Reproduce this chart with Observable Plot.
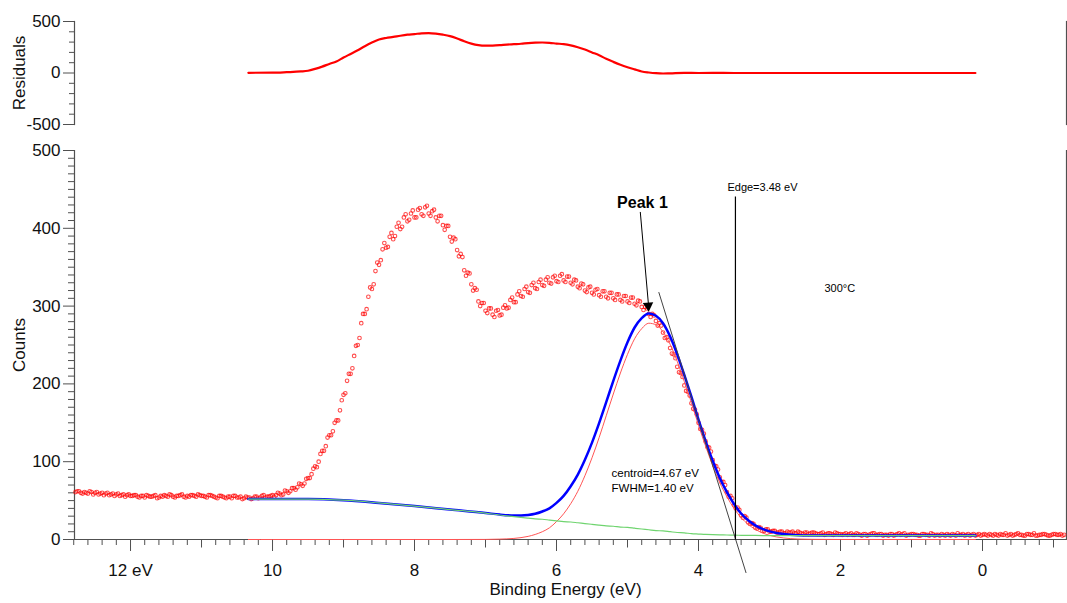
<!DOCTYPE html>
<html>
<head>
<meta charset="utf-8">
<script src="https://cdn.jsdelivr.net/npm/d3@7"></script>
<script src="https://cdn.jsdelivr.net/npm/@observablehq/plot@0.6"></script>
<style>
  html, body { margin: 0; padding: 0; background: #fff; }
  #top { position: absolute; left: 0; top: 0; }
  #main { position: absolute; left: 0; top: 140px; }
  svg { overflow: visible; }
</style>
</head>
<body>
<div id="top"></div>
<div id="main"></div>
<script>
// ---------- data ----------
// measured spectrum: counts on a 0.05 eV grid, from 12.75 eV down to -1.15 eV
const dataStartEV = 12.75;
const dataStepEV = 0.05;
const counts = [
  62,60,61,59,61,60,58,60,59,57,59,58,56,58,57,56,
  57,55,56,54,56,55,57,54,55,56,58,55,56,57,55,56,57,56,58,56,
  55,57,56,54,56,55,53,55,56,54,55,53,54,52,55,53,56,54,55,57,
  57,59,58,62,62,66,67,71,72,79,84,94,100,114,120,134,139,153,166,186,
  204,213,236,250,278,290,312,322,345,353,373,375,389,386,402,399,414,409,419,414,
  424,418,427,419,422,414,416,404,403,389,388,372,367,346,343,328,323,306,304,294,
  297,289,294,288,298,297,308,305,315,313,322,318,327,323,331,327,334,330,337,332,
  339,333,338,330,334,325,329,320,324,317,321,314,319,312,317,310,315,308,313,306,
  311,303,307,299,299,290,290,281,278,266,260,246,238,222,214,198,190,175,167,150,
  141,126,118,102,94,80,74,61,56,44,41,31,30,22,21,15,16,11,13,10,
  11,9,10,8,10,9,8,10,8,9,7,9,8,7,9,7,8,6,8,7,
  7,6,8,6,7,5,7,6,8,6,7,5,6,7,5,7,6,8,6,7,
  6,5,7,6,5,7,6,5,6,7,5,6,8,6,5,7,6,5,7,6,
  6,7,5,6,7,6,5,7,6,8,6,5,7,6,5,6,7,6,5,7,6,7,6
];
// second interleaved sweep: 0.05 eV grid from 12.775 eV down to -1.125 eV
const dataStartEV2 = 12.775;
const counts2 = [
  61,62,59,60,62,58,61,59,57,60,58,56,59,57,55,58,
  56,57,54,56,57,55,56,53,56,57,55,57,54,56,58,54,55,57,55,57,
  56,54,57,55,53,56,54,55,53,56,54,52,55,54,53,55,54,57,55,56,
  55,60,57,63,60,66,64,72,69,78,79,91,93,110,114,131,134,150,153,179,
  188,213,220,249,259,290,296,324,328,356,359,381,376,394,390,407,402,418,411,423,
  414,426,416,429,416,424,409,416,398,403,383,386,364,363,339,342,320,321,300,304,
  291,297,286,295,289,301,298,311,305,319,312,325,317,330,322,334,326,337,329,339,
  331,341,331,338,328,333,323,328,318,325,315,322,312,319,310,317,308,315,306,313,
  304,311,301,306,295,297,286,288,275,275,259,256,239,233,215,209,191,185,168,161,
  142,136,119,113,95,90,74,70,55,53,40,38,28,28,20,20,14,15,11,13,
  10,11,9,10,8,9,10,8,9,7,9,8,9,7,8,6,8,7,9,7,
  6,8,7,6,8,6,7,5,7,8,6,7,6,5,7,6,8,7,5,6,
  7,6,5,7,6,8,5,6,7,5,6,7,5,6,7,6,5,7,6,5,
  7,5,6,7,5,6,8,6,5,7,6,5,7,6,8,5,6,7,5,6,7,6,5
];

// fit curves (fit range 10.34 eV .. 0.1 eV)
const fitEnergy = [10.34,10.0,9.5,9.0,8.5,8.0,7.5,7.0,
  6.8,6.6,6.5,6.4,6.3,6.2,6.1,6.0,
  5.9,5.8,5.7,5.6,5.5,5.4,5.3,5.2,5.1,5.0,
  4.9,4.8,4.7,4.6,4.5,4.4,4.3,4.2,4.1,4.0,
  3.9,3.8,3.7,3.6,3.5,3.4,3.3,3.2,3.1,3.0,
  2.9,2.8,2.6,2.4,2.0,1.5,1.0,0.5,0.1];
const backgroundCounts = [52,52,52,50.5,47,43,38.5,34,
  31.5,29.5,28.5,27.5,26.5,26,25,24,
  23,22.5,21.5,20.5,19.5,18.5,17.5,17,16,15.5,
  14.5,13.5,12.5,11.5,11,10,9,8.5,7.5,7,
  6.5,6.2,6,5.8,5.6,5.4,5.3,5.2,5.1,5,
  5,5,5,5,5,5,5,5,5];
const peakCounts = [0,0,0,0,0,0,0,0.1,
  0.5,1.4,2.4,4,6.5,10,15,23,
  33,46,62,82,105,131,159,187,214,238,
  258,271,278,276,267,251,229,203,176,147,
  120,95,73,55,40,28,19.5,13,8.5,5.4,
  3.3,2,0.6,0.2,0,0,0,0,0];
const envelopeCounts = [52,52,52,50.5,47,43,38.5,34.1,
  32,30.9,30.9,31.5,33,36,40,47,
  56,68.5,83.5,102.5,124.5,149.5,176.5,204,230,253.5,
  272.5,284.5,290.5,287.5,278,261,238,211.5,183.5,154,
  126.5,101.2,79,60.8,45.6,33.4,24.8,18.2,13.6,10.4,
  8.3,7,5.6,5.2,5,5,5,5,5];

// residuals
const resEnergy = [10.34,10.0,9.8,9.6,9.5,9.4,9.3,9.2,9.1,9.0,8.9,8.8,8.7,8.6,8.5,8.4,8.3,8.2,8.1,8.0,
  7.9,7.8,7.7,7.6,7.5,7.4,7.3,7.2,7.1,7.0,6.9,6.8,6.7,6.6,6.5,6.4,6.3,6.2,6.1,6.0,
  5.9,5.8,5.7,5.6,5.5,5.4,5.3,5.2,5.1,5.0,4.9,4.8,4.7,4.6,4.5,4.4,4.2,4.0,3.8,3.5,3.0,2.0,1.0,0.1];
const resValue = [2,3,8,15,22,40,62,88,112,150,185,220,260,295,325,340,350,362,372,378,
  385,387,382,372,358,335,308,285,270,265,266,270,276,280,284,290,294,296,293,286,
  280,268,250,228,200,172,138,108,80,56,35,15,5,-2,-5,-3,2,0,1,0,0,0,0,0];

// tick values
const xMajorTicks = [12, 10, 8, 6, 4, 2, 0];
const yMajorTicks = [0, 100, 200, 300, 400, 500];
const resMajorTicks = [-500, 0, 500];

// annotations (data coordinates)
const edgeEV = 3.48;
const edgeTopCounts = 441;
const tangentLine = [{x1: 4.56, y1: 318, x2: 3.33, y2: -43}];
const peakArrow = [{x1: 4.82, y1: 421, x2: 4.705, y2: 302}];
const peakHead = [{x: 4.708, y: 300.5}];
const peakLabel = [{x: 4.79, y: 433, text: "Peak 1"}];
const edgeLabel = [{x: edgeEV, y: 452, text: "Edge=3.48 eV"}];
const tempLabel = [{x: 2.01, y: 322.6, text: "300°C"}];
const fitLabels = [
  {x: 5.225, y: 85.7, text: "centroid=4.67 eV"},
  {x: 5.225, y: 65.2, text: "FWHM=1.40 eV"}
];

// axis range
const xLeft = 12.789, xRight = -1.183;

// ---------- build ----------
const FONT = "'Liberation Sans', Arial, Helvetica, sans-serif";
const AXIS = "#505050";
const points = counts.map((c, i) => ({e: +(dataStartEV - i * dataStepEV).toFixed(3), c}))
  .concat(counts2.map((c, i) => ({e: +(dataStartEV2 - i * dataStepEV).toFixed(3), c})));
const fit = fitEnergy.map((e, i) => ({e, bg: backgroundCounts[i], pk: peakCounts[i], env: envelopeCounts[i]}));
const res = resEnergy.map((e, i) => ({e, r: resValue[i]}));

const minorX = d3.range(-1.0, 12.81, 0.2).map(v => +v.toFixed(1)).filter(v => Math.abs(v - Math.round(v)) > 1e-6);
const midX = d3.range(-1, 13, 2);
const minorY = d3.range(10, 500, 10).filter(v => v % 100 !== 0);
const minorRes = d3.range(-400, 401, 100).filter(v => v !== 0);

const topPlot = Plot.plot({
  width: 1067, height: 140,
  marginLeft: 74, marginRight: 1, marginTop: 21, marginBottom: 16,
  style: {fontFamily: FONT, fontSize: "17px", color: "#111", background: "transparent"},
  x: {domain: [xLeft, xRight], axis: null},
  y: {domain: [-500, 500]},
  marks: [
    Plot.axisY(minorRes, {tickSize: 5, tickFormat: () => "", label: null, stroke: AXIS}),
    Plot.axisY(resMajorTicks, {tickSize: 11, tickPadding: 3, tickFormat: d => String(d), label: null, stroke: AXIS, fill: "#111"}),
    Plot.frame({anchor: "left", stroke: AXIS, strokeWidth: 1.2}),
    Plot.frame({anchor: "right", stroke: AXIS, strokeWidth: 1.2}),
    Plot.line(res, {x: "e", y: "r", stroke: "#ff0000", strokeWidth: 2.2, curve: "monotone-x"}),
    Plot.text(["Residuals"], {frameAnchor: "left", dx: -55, rotate: -90, textAnchor: "middle", fontSize: 17, fill: "#111"})
  ]
});
document.getElementById("top").appendChild(topPlot);

const mainPlot = Plot.plot({
  width: 1067, height: 463,
  marginLeft: 74, marginRight: 1, marginTop: 10, marginBottom: 64,
  style: {fontFamily: FONT, fontSize: "17px", color: "#111", background: "transparent"},
  x: {domain: [xLeft, xRight]},
  y: {domain: [0, 500]},
  marks: [
    Plot.axisY(minorY, {tickSize: 6, tickFormat: () => "", label: null, stroke: AXIS}),
    Plot.axisY(yMajorTicks, {tickSize: 11, tickPadding: 3, label: null, stroke: AXIS, fill: "#111"}),
    Plot.axisX(minorX, {tickSize: 6, tickFormat: () => "", label: null, stroke: AXIS}),
    Plot.axisX(midX, {tickSize: 8.5, tickFormat: () => "", label: null, stroke: AXIS}),
    Plot.axisX(xMajorTicks, {tickSize: 12, tickPadding: 12, tickFormat: d => d === 12 ? "12 eV" : String(d), label: null, stroke: AXIS, fill: "#111"}),
    Plot.frame({anchor: "left", stroke: AXIS, strokeWidth: 1.2}),
    Plot.frame({anchor: "bottom", stroke: AXIS, strokeWidth: 1.2}),
    Plot.frame({anchor: "right", stroke: AXIS, strokeWidth: 1.2}),
    Plot.dot(points, {x: "e", y: "c", r: 1.8, stroke: "#ff0000", strokeOpacity: 0.7, strokeWidth: 1.1, fill: "none"}),
    Plot.line(fit, {x: "e", y: "pk", stroke: "#ff5555", strokeWidth: 1, curve: "monotone-x"}),
    Plot.line(fit, {x: "e", y: "env", stroke: "#0000ff", strokeWidth: 2.5, curve: "monotone-x"}),
    Plot.line(fit, {x: "e", y: "bg", stroke: "#6fd46f", strokeWidth: 1.2, curve: "monotone-x"}),
    Plot.link(tangentLine, {x1: "x1", y1: "y1", x2: "x2", y2: "y2", stroke: "#444", strokeWidth: 1}),
    Plot.link([{x: edgeEV, y1: 0, y2: edgeTopCounts}], {x1: "x", x2: "x", y1: "y1", y2: "y2", stroke: "#000", strokeWidth: 1.2}),
    Plot.link(peakArrow, {x1: "x1", y1: "y1", x2: "x2", y2: "y2", stroke: "#000", strokeWidth: 1}),
    Plot.dot(peakHead, {x: "x", y: "y", symbol: "triangle2", r: 5, fill: "#000", rotate: 175.5}),
    Plot.text(peakLabel, {x: "x", y: "y", text: "text", fontSize: 16, fontWeight: "bold", textAnchor: "middle", fill: "#000"}),
    Plot.text(edgeLabel, {x: "x", y: "y", text: "text", fontSize: 11, textAnchor: "start", dx: -8, fill: "#000"}),
    Plot.text(tempLabel, {x: "x", y: "y", text: "text", fontSize: 11, textAnchor: "middle", fill: "#000"}),
    Plot.text(fitLabels, {x: "x", y: "y", text: "text", fontSize: 11.5, textAnchor: "start", fill: "#000"}),
    Plot.text(["Counts"], {frameAnchor: "left", dx: -55, rotate: -90, textAnchor: "middle", fontSize: 17, fill: "#111"}),
    Plot.text(["Binding Energy (eV)"], {frameAnchor: "bottom", dy: 55, dx: -5, fontSize: 17, fill: "#111"})
  ]
});
document.getElementById("main").appendChild(mainPlot);
</script>
</body>
</html>
